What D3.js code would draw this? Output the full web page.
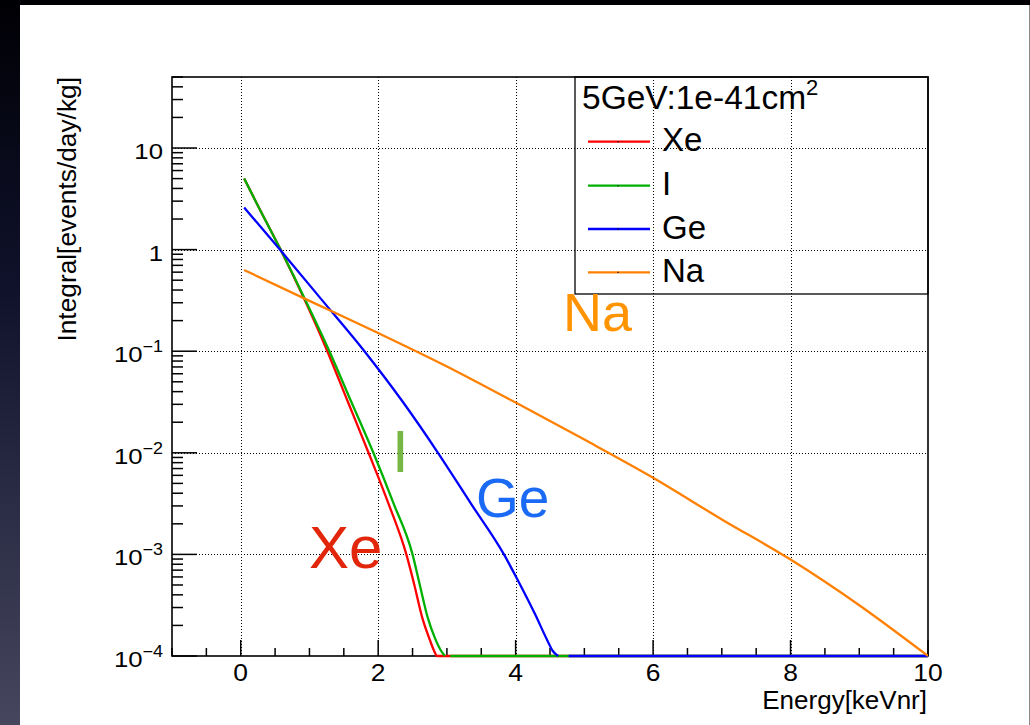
<!DOCTYPE html>
<html>
<head>
<meta charset="utf-8">
<script src="https://cdn.jsdelivr.net/npm/d3@7/dist/d3.min.js"></script>
<style>
  html, body { margin: 0; padding: 0; background: #000; }
  svg { display: block; }
  text { font-family: "Liberation Sans", Arial, Helvetica, sans-serif; }
</style>
</head>
<body>
<svg id="chart" width="1030" height="725"></svg>
<script>
// Integrated WIMP recoil rate, 5 GeV mass, 1e-41 cm^2 cross section.
// A null rate marks a gap in the drawn line.
const xeRate = [[0.05,5.0],[0.28,2.47],[0.58,1.0],[0.93,0.32],[1.26,0.1],[1.56,0.0316],[1.86,0.01],[2.15,0.00316],[2.41,0.001],[2.52,5.2e-4],[2.64,2.4e-4],[2.75,1.45e-4],[2.81,1.14e-4],[2.86,1e-4],[10,1e-4]];
const iRate  = [[0.05,5.0],[0.28,2.47],[0.58,1.0],[0.94,0.32],[1.29,0.1],[1.61,0.0316],[1.93,0.01],[2.225,0.00316],[2.50,0.001],[2.60,5.2e-4],[2.72,2.4e-4],[2.835,1.45e-4],[2.91,1.14e-4],[2.97,1e-4],[3.0,null],[3.05,1e-4],[10,1e-4]];
const geRate = [[0.05,2.6],[0.57,1.0],[1.18,0.32],[1.80,0.1],[2.36,0.0316],[2.87,0.01],[3.35,0.00316],[3.83,0.001],[4.03,5.6e-4],[4.28,2.6e-4],[4.46,1.43e-4],[4.54,1.12e-4],[4.62,1e-4],[4.7,null],[4.77,1e-4],[10,1e-4]];
const naRate = [[0.05,0.63],[1,0.313],[2,0.151],[3,0.0708],[4,0.0312],[5,0.0135],[6,0.00569],[7,0.00221],[8,8.9e-4],[9,3.16e-4],[10,1e-4]];

const seriesNames  = ["Xe", "I", "Ge", "Na"];
const seriesColors = ["#ff0000", "#00b000", "#0000ff", "#ff8000"];
const seriesData   = [xeRate, iRate, geRate, naRate];

const energyTicks = [0, 2, 4, 6, 8, 10];
const rateTicks = [1e-4, 1e-3, 1e-2, 1e-1, 1, 10];
const rateTickLabels = [["10","−4"],["10","−3"],["10","−2"],["10","−1"],["1",""],["10",""]];

const legendTitle = "5GeV:1e-41cm";
const legendTitleSup = "2";
const xTitle = "Energy[keVnr]";
const yTitle = "Integral[events/day/kg]";

// Large annotations next to each curve
const annoText   = ["Xe", "I", "Ge", "Na"];
const annoColors = ["#e2260c", "#76b843", "#1a6af5", "#ff9300"];

// ---- layout ----
const W = 1030, H = 725;
const frame = { left: 172, right: 928, top: 77, bottom: 656 };

const svg = d3.select("#chart");

// slide background + white canvas
const defs = svg.append("defs");
const grad = defs.append("linearGradient").attr("id", "bg").attr("x1", 0).attr("y1", 0).attr("x2", 0).attr("y2", 1);
grad.append("stop").attr("offset", "0%").attr("stop-color", "#000004");
grad.append("stop").attr("offset", "40%").attr("stop-color", "#10122c");
grad.append("stop").attr("offset", "100%").attr("stop-color", "#46465e");
svg.append("rect").attr("width", W).attr("height", H).attr("fill", "url(#bg)");
svg.append("rect").attr("x", 20).attr("y", 5).attr("width", W - 20).attr("height", H - 5).attr("fill", "#fff");
svg.append("line").attr("x1", 1029.5).attr("x2", 1029.5).attr("y1", 5).attr("y2", H).attr("stroke", "#8a8a8a").attr("stroke-width", 1);

defs.append("clipPath").attr("id", "plotclip").append("rect")
  .attr("x", frame.left).attr("y", frame.top - 2)
  .attr("width", frame.right - frame.left).attr("height", frame.bottom - frame.top + 4);

const x = d3.scaleLinear().domain([-1, 10]).range([frame.left, frame.right]);
const y = d3.scaleLog().domain([1e-4, 50]).range([frame.bottom, frame.top]);

// ---- dotted grid ----
const grid = svg.append("g").attr("stroke", "#000").attr("stroke-width", 1)
  .attr("stroke-dasharray", "1,2").attr("shape-rendering", "crispEdges");
energyTicks.filter(t => t > -1 && t < 10).forEach(t => {
  const px = Math.round(x(t)) + 0.5;
  grid.append("line").attr("x1", px).attr("x2", px).attr("y1", frame.top).attr("y2", frame.bottom);
});
rateTicks.filter(t => t > 1e-4).forEach(t => {
  const py = Math.round(y(t)) + 0.5;
  grid.append("line").attr("x1", frame.left).attr("x2", frame.right).attr("y1", py).attr("y2", py);
});

// ---- frame and ticks ----
const axes = svg.append("g").attr("stroke", "#000");
axes.append("rect").attr("x", frame.left).attr("y", frame.top)
  .attr("width", frame.right - frame.left).attr("height", frame.bottom - frame.top)
  .attr("fill", "none").attr("stroke-width", 1.6);

// bottom axis: major every 2, minor every 0.5
d3.range(-1, 10.001, 0.5).forEach(v => {
  const major = Math.abs(v / 2 - Math.round(v / 2)) < 1e-9;
  const len = major ? 16 : 8;
  axes.append("line").attr("x1", x(v)).attr("x2", x(v))
    .attr("y1", frame.bottom).attr("y2", frame.bottom - len).attr("stroke-width", 1.5);
});

// left axis: decades major, 2..9 minor
for (let e = -4; e <= 1; e++) {
  for (let m = 1; m <= 9; m++) {
    const v = m * Math.pow(10, e);
    if (v > 50) continue;
    const len = m === 1 ? 25 : 11;
    axes.append("line").attr("x1", frame.left).attr("x2", frame.left + len)
      .attr("y1", y(v)).attr("y2", y(v)).attr("stroke-width", 1.5);
  }
}

// ---- curves ----
const line = d3.line()
  .defined(d => d[1] != null)
  .x(d => x(d[0])).y(d => y(d[1]))
  .curve(d3.curveMonotoneX);
const curves = svg.append("g").attr("clip-path", "url(#plotclip)");
seriesData.forEach((data, i) => {
  curves.append("path").attr("d", line(data)).attr("fill", "none")
    .attr("stroke", seriesColors[i]).attr("stroke-width", 2.3).attr("stroke-linejoin", "round");
});

// ---- tick labels ----
const labels = svg.append("g").attr("fill", "#000");
energyTicks.forEach(t => {
  labels.append("g").attr("transform", `translate(${x(t)},681) scale(1.15,1)`)
    .append("text").attr("text-anchor", "middle").attr("font-size", 23).text(t);
});
rateTicks.forEach((t, i) => {
  const [base, sup] = rateTickLabels[i];
  const txt = labels.append("g").attr("transform", `translate(163,${y(t) + 11}) scale(1.12,1)`)
    .append("text").attr("text-anchor", "end").attr("font-size", 23);
  txt.append("tspan").text(base);
  if (sup) txt.append("tspan").attr("font-size", 16).attr("dy", -10).text(sup);
});

// axis titles
svg.append("text").attr("x", 927).attr("y", 709).attr("text-anchor", "end")
  .attr("font-size", 26).text(xTitle);
svg.append("text").attr("transform", "translate(76,77) rotate(-90)").attr("text-anchor", "end")
  .attr("font-size", 26.3).text(yTitle);

// ---- legend ----
const leg = svg.append("g");
leg.append("rect").attr("x", 575).attr("y", frame.top).attr("width", frame.right - 575).attr("height", 294 - frame.top)
  .attr("fill", "none").attr("stroke", "#000").attr("stroke-width", 1.3);
const lt = leg.append("text").attr("x", 582).attr("y", 109).attr("font-size", 33.5);
lt.append("tspan").text(legendTitle);
lt.append("tspan").attr("font-size", 22).attr("dy", -14).text(legendTitleSup);

const rowLine = [141.7, 185.7, 229, 272.3];
seriesNames.forEach((name, i) => {
  leg.append("line").attr("x1", 588).attr("x2", 650).attr("y1", rowLine[i]).attr("y2", rowLine[i])
    .attr("stroke", seriesColors[i]).attr("stroke-width", 2.3);
  leg.append("rect").attr("x", 617.5).attr("y", rowLine[i] - 0.5).attr("width", 1.2).attr("height", 1.2).attr("fill", "#000");
  leg.append("text").attr("x", 662).attr("y", rowLine[i] + 9.5).attr("font-size", 33).text(name);
});

// ---- curve annotations ----
const annoPos = [[309, 568, 60], [392, 471.5, 60], [476, 517, 55], [563, 330.5, 54]];
annoText.forEach((t, i) => {
  svg.append("text").attr("x", annoPos[i][0]).attr("y", annoPos[i][1])
    .attr("font-size", annoPos[i][2]).attr("fill", annoColors[i]).text(t);
});
</script>
</body>
</html>
